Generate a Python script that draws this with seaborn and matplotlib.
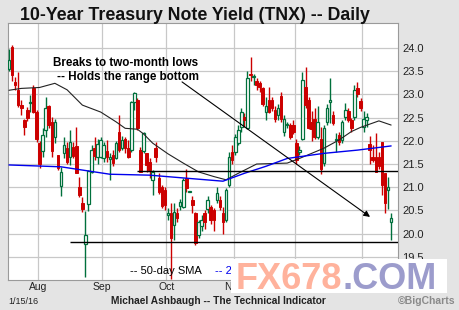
import matplotlib
matplotlib.use("Agg")
import matplotlib.pyplot as plt
import seaborn as sns
import pandas as pd
import numpy as np
from matplotlib.patches import Rectangle

# ---------------- data ----------------
holidays = ["2015-09-07", "2015-11-26", "2015-12-25", "2016-01-01"]
dates = [d for d in pd.bdate_range("2015-07-20", "2016-01-15") if d.strftime("%Y-%m-%d") not in holidays]

opens = [23.54, 24.02, 23.27, 23.10, 22.78, 22.45, 22.66, 22.82, 23.13, 22.63,
         21.95, 21.77, 22.23, 22.75, 22.41, 22.09, 21.69, 21.03, 21.73, 21.84,
         21.66, 21.87, 21.89, 21.01, 20.67, 19.78, 20.64, 21.33, 21.84, 21.66,
         21.66, 21.62, 21.77, 21.60, 21.70, 21.63, 22.20, 21.85, 22.05, 21.84,
         21.80, 22.84, 22.88, 21.80, 21.77, 21.73, 21.55, 21.16, 21.84, 21.20,
         21.00, 20.94, 20.40, 20.44, 20.19, 20.44, 20.60, 20.58, 21.19, 20.90,
         20.72, 20.44, 19.98, 20.16, 20.44, 20.54, 20.58, 20.50, 20.72, 20.72,
         20.44, 20.29, 21.05, 21.76, 21.76, 21.95, 22.30, 22.51, 22.28, 23.45,
         23.38, 23.30, 23.25, 23.13, 22.63, 22.88, 22.88, 22.66, 22.55, 22.97,
         22.20, 22.34, 22.34, 22.34, 21.95, 21.75, 22.05, 23.17, 22.88, 22.40,
         22.48, 22.09, 22.05, 21.52, 22.41, 22.84, 22.56, 22.02, 22.12, 22.02,
         22.52, 22.65, 22.45, 22.52, 23.13, 22.86, 22.29, 22.45, 21.93, 21.66,
         21.66, 21.66, 21.98, 21.30, 20.94, 20.26]
highs = [23.97, 24.07, 23.37, 23.48, 22.88, 22.47, 22.72, 22.98, 23.20, 22.66,
         22.00, 22.27, 22.94, 22.78, 22.52, 22.46, 21.70, 21.44, 22.09, 21.98,
         22.23, 21.98, 22.30, 21.22, 20.79, 20.49, 21.37, 21.90, 22.09, 22.05,
         22.09, 21.98, 22.02, 21.73, 21.80, 22.00, 22.56, 22.10, 22.09, 22.02,
         22.85, 23.05, 22.92, 21.87, 22.19, 21.73, 21.62, 21.37, 21.98, 21.30,
         21.05, 21.00, 20.55, 20.65, 20.65, 20.55, 20.75, 21.20, 21.40, 20.92,
         20.80, 20.47, 20.30, 20.40, 20.50, 20.80, 20.62, 20.55, 21.00, 20.80,
         20.58, 20.98, 21.75, 21.90, 22.15, 22.35, 22.70, 22.60, 23.50, 23.81,
         23.45, 23.35, 23.30, 23.15, 22.95, 23.17, 22.95, 22.75, 22.80, 23.05,
         22.55, 22.40, 22.38, 22.45, 22.05, 21.88, 23.48, 23.60, 22.95, 22.65,
         22.70, 22.75, 22.30, 22.34, 22.80, 23.35, 22.65, 22.16, 22.20, 22.45,
         22.81, 22.70, 22.50, 23.20, 23.27, 22.92, 22.65, 22.60, 22.10, 21.90,
         22.16, 21.75, 21.98, 21.30, 21.23, 20.44]
lows = [23.50, 23.30, 23.10, 22.74, 22.55, 22.12, 22.42, 22.63, 22.60, 21.98,
        21.41, 21.66, 22.09, 22.28, 21.66, 21.96, 21.37, 20.81, 21.62, 21.50,
        21.48, 21.62, 21.30, 20.79, 20.47, 19.06, 20.49, 21.30, 21.58, 21.51,
        21.62, 21.55, 21.55, 21.15, 21.45, 21.60, 21.77, 21.80, 21.73, 21.62,
        21.77, 22.66, 22.23, 21.33, 21.73, 21.33, 21.20, 20.83, 21.55, 20.85,
        20.55, 20.50, 20.30, 19.02, 19.86, 20.25, 20.50, 20.55, 20.90, 20.89,
        20.45, 19.76, 19.90, 20.05, 20.10, 20.45, 20.20, 20.05, 20.65, 20.50,
        20.00, 20.25, 21.00, 21.50, 21.70, 21.90, 22.20, 22.30, 22.25, 23.30,
        23.20, 23.10, 23.05, 22.75, 22.45, 22.60, 22.65, 22.40, 22.45, 22.40,
        22.10, 22.28, 22.05, 22.15, 21.50, 21.70, 22.02, 22.70, 22.25, 22.00,
        22.05, 22.05, 21.29, 21.45, 22.35, 22.38, 22.35, 21.77, 21.90, 21.95,
        22.45, 22.40, 22.20, 22.45, 22.95, 22.65, 22.20, 22.30, 21.50, 21.55,
        21.33, 21.40, 20.83, 20.44, 20.54, 19.86]
closes = [23.74, 23.42, 23.20, 22.77, 22.70, 22.29, 22.50, 22.84, 22.63, 22.05,
          21.50, 22.12, 22.70, 22.34, 21.77, 22.41, 21.41, 21.33, 21.91, 21.55,
          21.98, 21.67, 21.30, 20.83, 20.54, 19.98, 21.35, 21.80, 21.67, 21.94,
          22.02, 21.91, 21.66, 21.66, 21.52, 21.95, 21.80, 22.02, 21.84, 21.66,
          22.84, 23.04, 22.27, 21.33, 22.16, 21.48, 21.37, 21.33, 21.66, 20.90,
          20.60, 20.62, 20.45, 19.90, 20.47, 20.33, 20.68, 21.16, 20.98, 20.91,
          20.62, 19.79, 20.26, 20.30, 20.26, 20.72, 20.29, 20.30, 20.87, 20.58,
          20.26, 20.94, 21.65, 21.59, 22.08, 22.23, 22.62, 22.45, 23.35, 23.42,
          23.40, 23.20, 23.15, 22.79, 22.76, 22.63, 22.70, 22.48, 22.70, 22.48,
          22.46, 22.35, 22.09, 22.20, 21.59, 21.80, 23.32, 22.77, 22.27, 22.25,
          22.09, 22.41, 21.40, 22.27, 22.70, 22.89, 22.38, 22.05, 21.98, 22.41,
          22.66, 22.45, 22.27, 23.09, 23.02, 22.70, 22.47, 22.51, 21.80, 21.59,
          21.33, 21.45, 21.05, 20.65, 21.01, 20.33]

# moving averages (candle index -> value)
sma50_idx = [0, 4, 10, 15, 19, 24, 30, 35, 38, 42, 44, 47, 52, 57, 62, 67, 71, 75,
             81, 91, 95, 103, 108, 112, 115, 121, 125]
sma50_val = [23.09, 23.13, 23.15, 23.24, 23.10, 22.77, 22.62, 22.41, 22.27, 22.25,
             22.15, 21.95, 21.72, 21.52, 21.33, 21.23, 21.16, 21.30, 21.50, 21.52,
             21.62, 21.84, 22.02, 22.20, 22.29, 22.43, 22.34]
sma200_idx = [0, 17, 33, 46, 57, 70, 77, 84, 91, 103, 114, 125]
sma200_val = [21.48, 21.44, 21.28, 21.26, 21.20, 21.13, 21.30, 21.45, 21.62, 21.73,
              21.80, 21.89]

month_labels = ["Aug", "Sep", "Oct", "Nov", "Dec", "Jan"]
ytick_vals = [19.5, 20.0, 20.5, 21.0, 21.5, 22.0, 22.5, 23.0, 23.5, 24.0]
resistance = 21.35
support = 19.82

# ---------------- style ----------------
sns.set_theme(style="white")
plt.rcParams["font.family"] = ["Liberation Sans", "DejaVu Sans"]

W, H = 460, 310
fig = plt.figure(figsize=(W / 100, H / 100), dpi=100, facecolor="#E4E4E4")

def fx(px):
    return px / W

def fy(py):
    return 1 - py / H

ax = fig.add_axes([fx(8), fy(280), (398 - 8) / W, (280 - 23) / H])
ax.set_facecolor("white")

n = len(closes)
red, green = "#CC0000", "#00703C"

for i in range(n):
    o, h, l, c = opens[i], highs[i], lows[i], closes[i]
    up = c >= o
    col = green if up else red
    ax.vlines(i, l, h, color=col, lw=1.0, zorder=3)
    b0 = min(o, c)
    bh = max(abs(c - o), 0.02)
    if up:
        ax.add_patch(Rectangle((i - 0.42, b0), 0.84, bh, facecolor="white",
                               edgecolor=col, lw=0.9, zorder=4))
    else:
        ax.add_patch(Rectangle((i - 0.42, b0), 0.84, bh, facecolor=col,
                               edgecolor=col, lw=0.7, zorder=4))

sns.lineplot(x=sma50_idx, y=sma50_val, ax=ax, color="#222222", lw=0.8, zorder=5, legend=False)
sns.lineplot(x=sma200_idx, y=sma200_val, ax=ax, color="#0000EE", lw=1.0, zorder=5, legend=False)

xmin, xmax = -0.33, 127.25
ax.hlines(resistance, 41.9, xmax, color="black", lw=1.0, zorder=6)
ax.hlines(support, 19.95, xmax, color="black", lw=1.0, zorder=6)
ax.annotate("", xy=(118.1, 20.36), xytext=(56.6, 23.27),
            arrowprops=dict(arrowstyle="-|>", color="black", lw=0.8,
                            mutation_scale=9, shrinkA=0, shrinkB=0), zorder=7)

ax.set_xlim(xmin, xmax)
ax.set_ylim(19.0, 24.54)

# month gridlines between last day of month and first day of next
month_pos = []
for k in range(1, n):
    if dates[k].month != dates[k - 1].month:
        month_pos.append(k - 0.5)
ax.set_xticks(month_pos)
ax.set_xticklabels(month_labels, fontsize=7.5, color="#222222")
ax.yaxis.tick_right()
ax.set_yticks(ytick_vals)
ax.set_yticklabels([f"{v:.1f}" for v in ytick_vals], fontsize=8, color="#222222")
ax.tick_params(axis="both", length=0)
ax.tick_params(axis="x", pad=1.5)
ax.tick_params(axis="y", pad=3)
ax.grid(True, color="#C8C8C8", lw=0.9, zorder=0)
ax.set_axisbelow(True)
for s in ax.spines.values():
    s.set_color("#9A9A9A")
    s.set_linewidth(0.8)

# ---------------- texts ----------------
fig.text(fx(20), fy(20), "10-Year Treasury Note Yield (TNX) -- Daily", fontsize=12.8,
         fontweight="bold", ha="left", va="baseline", color="#111111")
fig.text(fx(53), fy(63), "Breaks to two-month lows", fontsize=8.4, fontweight="bold",
         ha="left", va="center", color="black")
fig.text(fx(57), fy(77), "-- Holds the range bottom", fontsize=8.4, fontweight="bold",
         ha="left", va="center", color="black")
fig.text(fx(130), fy(271), "-- 50-day SMA", fontsize=8, ha="left", va="center", color="black")
fig.text(fx(215), fy(271), "-- 200-day SMA", fontsize=8, ha="left", va="center", color="#0000EE")

# watermark
fig.patches.append(Rectangle((fx(231), fy(293)), (447 - 231) / W, (293 - 259) / H,
                             transform=fig.transFigure, facecolor="white",
                             edgecolor="none", zorder=10))
t1 = fig.text(fx(236), fy(289), "FX678", fontsize=26, fontweight="bold", color="#FFB29C",
              ha="left", va="baseline", zorder=11)
fig.canvas.draw()
bb = t1.get_window_extent()
fig.text(bb.x1 / fig.bbox.width, fy(289), ".COM", fontsize=26, fontweight="bold",
         color="#9C9CCC", ha="left", va="baseline", zorder=11)

fig.text(fx(8), fy(301), "1/15/16", fontsize=6.5, ha="left", va="center", color="#222222")
fig.text(fx(218), fy(301), "Michael Ashbaugh -- The Technical Indicator", fontsize=7.3,
         fontweight="bold", ha="center", va="center", color="#222222")
fig.text(fx(455), fy(301), "\u00a9BigCharts", fontsize=7.5, fontweight="bold",
         ha="right", va="center", color="#8A8A8A")

fig.savefig("out.png", dpi=100, facecolor=fig.get_facecolor())
